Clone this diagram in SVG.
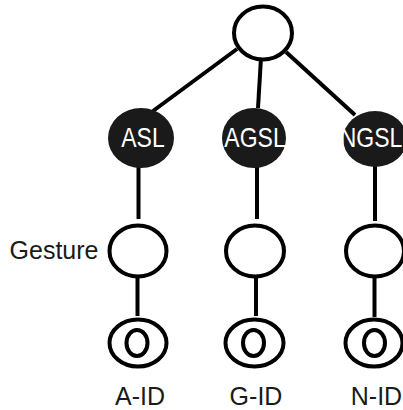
<svg xmlns="http://www.w3.org/2000/svg" width="403" height="410" viewBox="0 0 403 410">
<style>
.ring{fill:#fff;stroke:#000;stroke-width:4}
.solid{fill:#1a1a1a;stroke:none}
.edge{stroke:#000;stroke-width:4;fill:none}
.in{font-family:"Liberation Sans",Arial,sans-serif;font-size:23px;fill:#fff;text-anchor:middle}
.lbl{font-family:"Liberation Sans",Arial,sans-serif;font-size:25px;fill:#1a1a1a;text-anchor:middle}
</style>
<rect width="403" height="410" fill="#fff"/>
<g id="connectors">
<line class="edge" x1="237" y1="49" x2="153" y2="111"/>
<line class="edge" x1="261" y1="58" x2="258" y2="108"/>
<line class="edge" x1="286" y1="52" x2="355" y2="115"/>
<line class="edge" x1="138.5" y1="166" x2="138.5" y2="219"/>
<line class="edge" x1="257" y1="166" x2="257" y2="219"/>
<line class="edge" x1="375" y1="166" x2="375" y2="221"/>
<line class="edge" x1="137.5" y1="278" x2="137.5" y2="316"/>
<line class="edge" x1="256" y1="278" x2="256" y2="316"/>
<line class="edge" x1="374.5" y1="278" x2="374.5" y2="317"/>
</g>
<g id="root"><ellipse class="ring" cx="263" cy="33" rx="29" ry="26.5"/></g>
<g id="asl"><ellipse class="solid" cx="141" cy="138" rx="33" ry="30"/><text class="in" transform="translate(143,147) scale(1,1.2)">ASL</text></g>
<g id="agsl"><ellipse class="solid" cx="254" cy="138" rx="32" ry="30"/><text class="in" transform="translate(255,147) scale(1,1.2)">AGSL</text></g>
<g id="ngsl"><ellipse class="solid" cx="375" cy="139" rx="32" ry="28"/><text class="in" transform="translate(371,147) scale(1,1.2)">NGSL</text></g>
<g id="gesture-a"><ellipse class="ring" cx="138" cy="251" rx="28.5" ry="25.5"/></g>
<g id="gesture-g"><ellipse class="ring" cx="255" cy="251" rx="29" ry="25.5"/></g>
<g id="gesture-n"><ellipse class="ring" cx="375" cy="251" rx="29" ry="25.5"/></g>
<g id="gesture-label"><text class="lbl" x="54" y="259">Gesture</text></g>
<g id="a-id"><ellipse class="ring" cx="138" cy="343" rx="28.5" ry="23.5"/><ellipse class="ring" cx="137" cy="343" rx="10.5" ry="13"/><text class="lbl" x="140" y="405">A-ID</text></g>
<g id="g-id"><ellipse class="ring" cx="254.5" cy="343" rx="29" ry="23.5"/><ellipse class="ring" cx="253.5" cy="343" rx="10.5" ry="13"/><text class="lbl" x="256" y="405">G-ID</text></g>
<g id="n-id"><ellipse class="ring" cx="374" cy="343" rx="28.5" ry="23.5"/><ellipse class="ring" cx="374.5" cy="343" rx="10.5" ry="13"/><text class="lbl" x="376.5" y="405">N-ID</text></g>
</svg>
